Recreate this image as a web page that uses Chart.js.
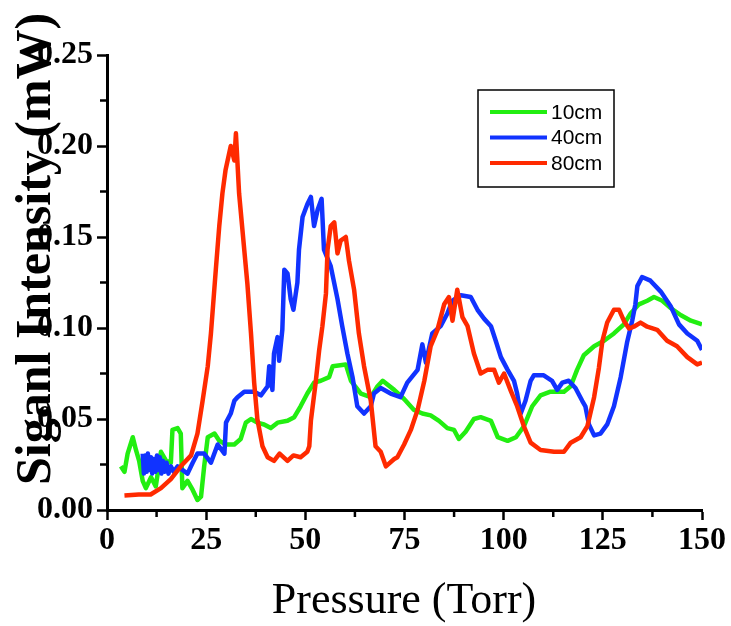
<!DOCTYPE html>
<html>
<head>
<meta charset="utf-8">
<script src="https://cdn.jsdelivr.net/npm/chart.js@4.4.1/dist/chart.umd.min.js"></script>
<style>
  body { margin: 0; background: #fff; }
  #wrap { width: 731px; height: 626px; }
</style>
</head>
<body>
<div id="wrap"><canvas id="signal_chart" width="731" height="626"></canvas></div>
<script>
// Series: pressure (Torr) and signal (mW)
const press_10 = [3.5, 4.4, 5.2, 6.5, 7.3, 8.1, 9.0, 9.8, 11.1, 12.3, 13.6, 14.9, 16.1, 16.5, 17.8, 18.6, 19.0, 20.3, 21.6, 22.8, 23.7, 24.5, 25.4, 27.1, 28.3, 30, 32.1, 33.7, 35, 36.3, 37.9, 39.6, 41.3, 43, 45.5, 47.2, 48.8, 50.5, 52.2, 53.9, 56, 56.9, 60.2, 61.5, 64, 66.5, 68.2, 69.5, 72.4, 74.9, 77.4, 79.5, 81.6, 83.7, 85.8, 87.5, 88.7, 90.4, 92.5, 94.2, 96.8, 98.5, 101, 103.1, 105.1, 107.2, 109.3, 111.8, 115.2, 116.9, 118.5, 120.2, 122.8, 125.3, 127.8, 130.3, 132, 134.1, 136.2, 137.9, 140, 142.1, 144.7, 147.2, 150];
const signal_10 = [0.024, 0.021, 0.031, 0.040, 0.033, 0.027, 0.016, 0.012, 0.018, 0.013, 0.032, 0.027, 0.026, 0.044, 0.045, 0.042, 0.012, 0.016, 0.011, 0.0055, 0.0073, 0.024, 0.040, 0.042, 0.038, 0.036, 0.036, 0.039, 0.048, 0.050, 0.048, 0.047, 0.045, 0.048, 0.049, 0.051, 0.057, 0.064, 0.070, 0.071, 0.073, 0.079, 0.080, 0.071, 0.064, 0.062, 0.068, 0.071, 0.066, 0.061, 0.055, 0.053, 0.052, 0.049, 0.045, 0.044, 0.039, 0.043, 0.050, 0.051, 0.049, 0.040, 0.038, 0.040, 0.046, 0.057, 0.063, 0.065, 0.065, 0.068, 0.077, 0.085, 0.090, 0.093, 0.097, 0.102, 0.108, 0.113, 0.115, 0.117, 0.115, 0.111, 0.107, 0.104, 0.102];

const press_40 = [9, 9.3, 9.6, 10, 10.3, 10.7, 11.1, 11.4, 11.8, 12.2, 12.6, 13, 13.3, 13.7, 14.1, 14.5, 15, 15.5, 16.1, 16.8, 17.8, 19, 20.3, 21.6, 22.8, 24.5, 26.2, 27.9, 29.6, 30, 31.2, 32.1, 32.9, 34.6, 37.1, 38.8, 40.5, 40.9, 41.7, 42.1, 43, 43.4, 44.2, 44.7, 45.5, 46.3, 47, 48, 48.4, 49.3, 50.5, 51.4, 52.2, 53.1, 54.1, 54.7, 56.4, 58.1, 59.3, 60.6, 61.9, 63.1, 64.8, 66.5, 67.3, 69, 71.5, 74, 75.7, 78.3, 79.5, 80.4, 82, 84.1, 85.8, 87.1, 89.2, 91.7, 93.4, 95.1, 96.8, 98, 99.3, 101, 102.6, 103.4, 104.3, 105.5, 106.8, 107.6, 110.1, 112.2, 113.5, 114.8, 116.4, 118.1, 119.8, 120.6, 121.5, 122.8, 124.4, 126.1, 127.8, 129.5, 131.1, 132.4, 133.2, 133.7, 134.9, 137, 139.6, 142.1, 144.2, 146.3, 148.8, 150];
const signal_40 = [0.031, 0.020, 0.030, 0.021, 0.031, 0.022, 0.029, 0.020, 0.028, 0.021, 0.030, 0.022, 0.029, 0.020, 0.027, 0.021, 0.026, 0.020, 0.024, 0.021, 0.024, 0.022, 0.020, 0.026, 0.031, 0.031, 0.026, 0.036, 0.031, 0.048, 0.053, 0.060, 0.062, 0.065, 0.065, 0.063, 0.068, 0.079, 0.066, 0.086, 0.095, 0.082, 0.099, 0.132, 0.130, 0.116, 0.110, 0.125, 0.143, 0.161, 0.168, 0.172, 0.156, 0.165, 0.171, 0.143, 0.134, 0.116, 0.101, 0.086, 0.073, 0.057, 0.053, 0.057, 0.064, 0.067, 0.064, 0.062, 0.070, 0.077, 0.091, 0.081, 0.097, 0.101, 0.108, 0.115, 0.118, 0.117, 0.110, 0.105, 0.101, 0.093, 0.084, 0.077, 0.071, 0.064, 0.053, 0.060, 0.071, 0.074, 0.074, 0.071, 0.066, 0.070, 0.071, 0.067, 0.060, 0.057, 0.047, 0.041, 0.042, 0.047, 0.057, 0.073, 0.092, 0.104, 0.113, 0.123, 0.128, 0.126, 0.120, 0.112, 0.102, 0.097, 0.093, 0.088];

const press_80 = [4.4, 8, 11, 13.6, 16.1, 18.6, 21.2, 22.8, 24.1, 25.4, 26.2, 27.5, 28.3, 29.1, 29.9, 31.2, 32.1, 32.5, 33.3, 34.6, 35.4, 36.3, 37.1, 37.9, 39.2, 40.5, 42.1, 43.5, 45.5, 47, 48.8, 50.5, 51, 51.4, 52.6, 53.5, 54.3, 55.2, 55.6, 56.4, 57.3, 58.1, 58.9, 60.2, 61, 62.3, 63.5, 64.8, 66.5, 67.7, 69, 70.3, 72.4, 73.2, 74.9, 76.6, 78.3, 80, 81.6, 83.3, 85, 86.2, 87.1, 88.3, 89.6, 90.9, 92.5, 94.2, 95.9, 97.6, 98.8, 100.1, 101.7, 103.4, 105.1, 106.8, 109.3, 112.7, 115.2, 116.9, 119.4, 121.1, 122.8, 124, 124.9, 126.1, 127.8, 129.1, 130.3, 131.6, 132.8, 134.5, 136.2, 138.7, 141.2, 143.7, 146.3, 148.8, 150];
const signal_80 = [0.008, 0.0085, 0.0085, 0.012, 0.017, 0.024, 0.030, 0.042, 0.060, 0.079, 0.097, 0.134, 0.156, 0.174, 0.187, 0.200, 0.192, 0.207, 0.174, 0.143, 0.124, 0.097, 0.070, 0.050, 0.035, 0.029, 0.027, 0.031, 0.027, 0.030, 0.029, 0.032, 0.035, 0.049, 0.070, 0.088, 0.101, 0.119, 0.143, 0.156, 0.158, 0.141, 0.148, 0.150, 0.137, 0.121, 0.097, 0.079, 0.060, 0.035, 0.032, 0.024, 0.028, 0.029, 0.036, 0.044, 0.055, 0.071, 0.090, 0.099, 0.113, 0.117, 0.104, 0.121, 0.106, 0.101, 0.086, 0.075, 0.077, 0.077, 0.070, 0.075, 0.066, 0.057, 0.046, 0.037, 0.033, 0.032, 0.032, 0.037, 0.040, 0.046, 0.062, 0.078, 0.093, 0.103, 0.110, 0.110, 0.104, 0.0997, 0.1007, 0.103, 0.1007, 0.099, 0.093, 0.090, 0.084, 0.080, 0.081];

const series_labels = ["10cm", "40cm", "80cm"];
const series_colors = ["#22ee11", "#1133ff", "#ff2a00"];

const x_minor = [12.5, 37.5, 62.5, 87.5, 112.5, 137.5];
const y_minor = [0.025, 0.075, 0.125, 0.175, 0.225];

function toPoints(xs, ys) {
  return xs.map((x, i) => ({ x: x, y: ys[i] }));
}

// minor ticks, legend box and the two axis titles
const extras = {
  id: "extras",
  afterDraw(chart) {
    const c = chart.ctx;
    const xs = chart.scales.x, ys = chart.scales.y;
    const area = chart.chartArea;
    c.save();
    c.strokeStyle = "#000";
    c.lineWidth = 2.5;
    x_minor.forEach(v => {
      const px = xs.getPixelForValue(v);
      c.beginPath(); c.moveTo(px, area.bottom); c.lineTo(px, area.bottom + 7); c.stroke();
    });
    y_minor.forEach(v => {
      const py = ys.getPixelForValue(v);
      c.beginPath(); c.moveTo(area.left, py); c.lineTo(area.left - 7, py); c.stroke();
    });

    // legend
    c.lineWidth = 1.5;
    c.strokeRect(478, 90, 136, 97);
    c.font = '21px "Liberation Sans", Arial, sans-serif';
    c.textBaseline = "middle";
    c.fillStyle = "#000";
    series_labels.forEach((lab, i) => {
      const y = 112 + i * 25.5;
      c.strokeStyle = series_colors[i];
      c.lineWidth = 4;
      c.beginPath(); c.moveTo(490, y); c.lineTo(547, y); c.stroke();
      c.fillText(lab, 551, y + 1);
    });

    // x title
    c.font = '44px "Liberation Serif", "Times New Roman", serif';
    c.textAlign = "center";
    c.textBaseline = "alphabetic";
    c.fillText("Pressure (Torr)", 404, 613);

    // y title, drawn over the tick labels like the original
    c.translate(50, 485);
    c.rotate(-Math.PI / 2);
    c.font = 'bold 50px "Liberation Serif", "Times New Roman", serif';
    c.textAlign = "left";
    c.fillText("Siganl Intensity (mW)", 0, 0);
    c.restore();
  }
};

const tickFont = { family: '"Liberation Serif", "Times New Roman", serif', size: 32, weight: "bold" };

new Chart(document.getElementById("signal_chart"), {
  type: "line",
  data: {
    datasets: [
      { label: series_labels[0], data: toPoints(press_10, signal_10), borderColor: series_colors[0], order: 3 },
      { label: series_labels[1], data: toPoints(press_40, signal_40), borderColor: series_colors[1], order: 2 },
      { label: series_labels[2], data: toPoints(press_80, signal_80), borderColor: series_colors[2], order: 1 }
    ]
  },
  options: {
    responsive: false,
    animation: false,
    layout: { padding: { top: 55, right: 29, left: 0, bottom: 0 } },
    elements: {
      point: { radius: 0 },
      line: { borderWidth: 4.5, tension: 0, borderJoinStyle: "round", fill: false }
    },
    plugins: { legend: { display: false }, tooltip: { enabled: false } },
    scales: {
      x: {
        type: "linear",
        min: 0, max: 150,
        afterFit: (s) => { s.height = 116; },
        ticks: { stepSize: 25, color: "#000", font: tickFont, padding: 2, maxRotation: 0 },
        grid: { drawOnChartArea: false, drawTicks: true, tickLength: 10, tickWidth: 2.5, tickColor: "#000" },
        border: { display: true, color: "#000", width: 3 }
      },
      y: {
        min: 0, max: 0.25,
        afterFit: (s) => { s.width = 107; },
        ticks: { stepSize: 0.05, color: "#000", font: tickFont, padding: 4, callback: (v) => v.toFixed(2) },
        grid: { drawOnChartArea: false, drawTicks: true, tickLength: 10, tickWidth: 2.5, tickColor: "#000" },
        border: { display: true, color: "#000", width: 3 }
      }
    }
  },
  plugins: [extras]
});
</script>
</body>
</html>
